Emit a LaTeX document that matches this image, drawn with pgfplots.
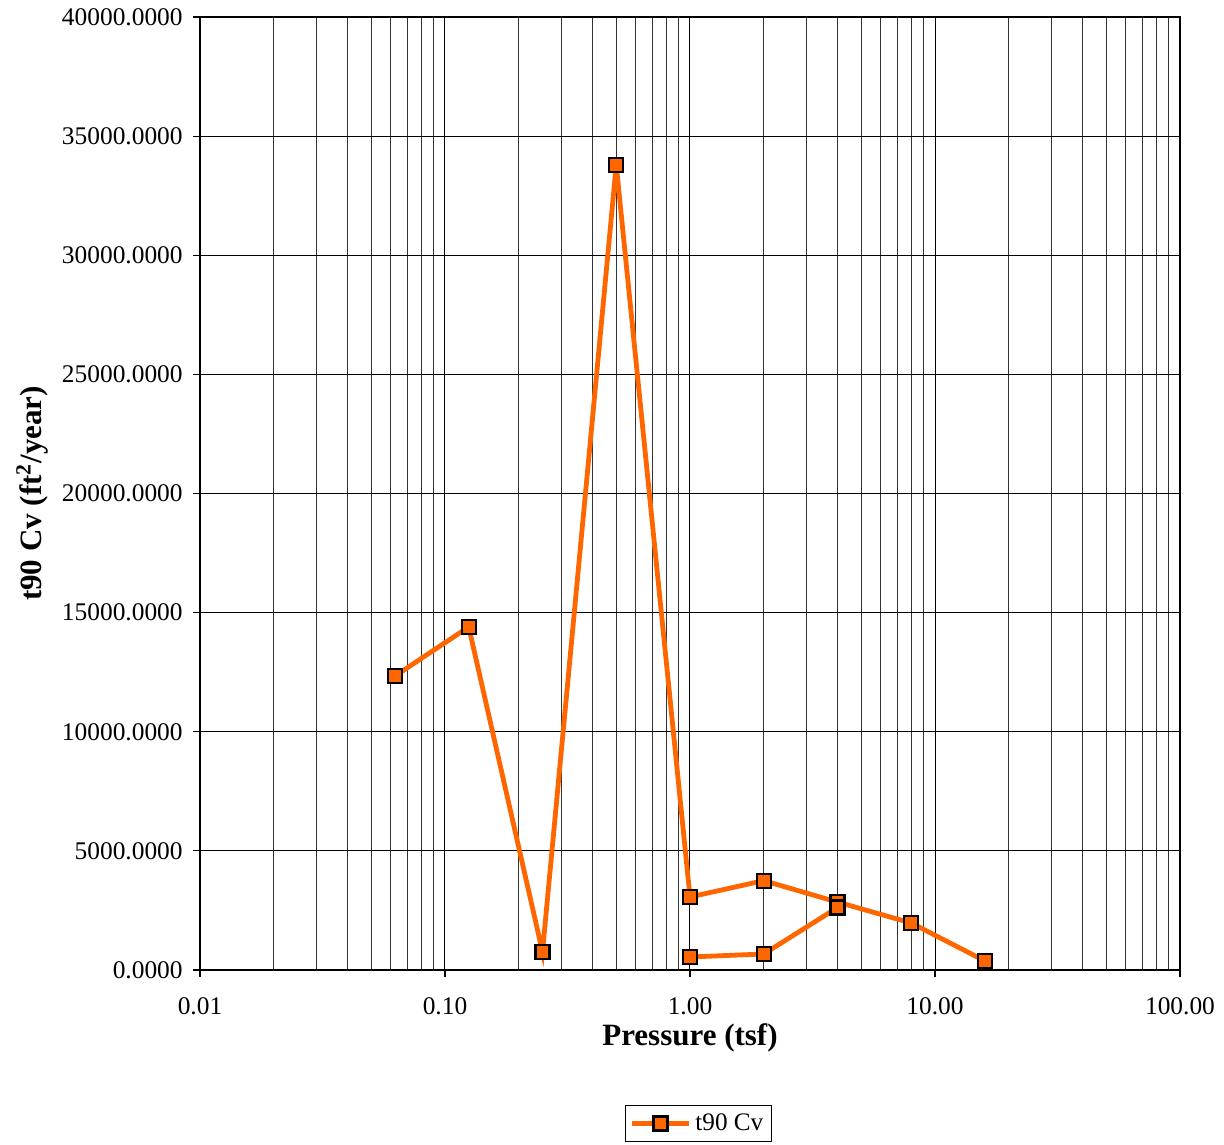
\documentclass[border=0pt]{standalone}
\usepackage{fontspec}
\setmainfont{Liberation Serif}
\usepackage{pgfplots}
\pgfplotsset{compat=1.18}
\definecolor{cvorange}{RGB}{255,102,0}
\begin{document}
\begin{tikzpicture}
\path[use as bounding box] (-100pt,-87pt) rectangle (512pt,485pt);
\begin{axis}[
  at={(0,0)}, anchor=south west,
  scale only axis, width=490pt, height=476.5pt,
  xmode=log, log basis x=10,
  xmin=0.01, xmax=100, ymin=0, ymax=40000,
  xtick={0.01,0.1,1,10,100},
  xticklabels={0.01,0.10,1.00,10.00,100.00},
  minor xtick={0.02,0.03,0.04,0.05,0.06,0.07,0.08,0.09,
               0.2,0.3,0.4,0.5,0.6,0.7,0.8,0.9,
               2,3,4,5,6,7,8,9,
               20,30,40,50,60,70,80,90},
  ytick={0,5000,10000,15000,20000,25000,30000,35000,40000},
  yticklabels={0.0000,5000.0000,10000.0000,15000.0000,20000.0000,25000.0000,30000.0000,35000.0000,40000.0000},
  xmajorgrids=true, xminorgrids=true, ymajorgrids=true,
  major grid style={black, line width=0.5pt},
  minor grid style={black!80, line width=0.5pt},
  axis line style={black, line width=1.3pt},
  tick align=outside, major tick length=3.5pt, minor tick length=0pt,
  tick style={black, line width=0.6pt},
  xtick pos=bottom, ytick pos=left,
  ticklabel style={font=\fontsize{12.7}{14}\selectfont},
  yticklabel style={inner sep=5pt},
  xticklabel style={yshift=-7pt},
  xlabel={Pressure (tsf)},
  ylabel={t90 Cv (ft\textsuperscript{2}/year)},
  label style={font=\fontsize{15.5}{17}\selectfont\bfseries},
  xlabel style={at={(axis description cs:0.5,-0.0714)}, anchor=center},
  ylabel style={at={(axis description cs:-0.1714,0.5)}, anchor=center},
  legend style={at={(0.5087,-0.1417)}, anchor=north, draw=black, line width=0.5pt,
    font=\fontsize{12.6}{14}\selectfont, inner sep=2pt},
  legend image code/.code={\draw[mark repeat=2,mark phase=2] plot coordinates {(0cm,0cm) (0.5cm,0cm) (1cm,0cm)};},
  unbounded coords=jump,
]
\addplot[color=cvorange, line width=2.4pt, mark=square*,
  mark size=3.5pt, mark options={fill=cvorange, draw=black, line width=1.1pt}]
  coordinates {
  (0.0625,12340) (0.125,14400) (0.25,760) (0.5,33790) (1,3064) (2,3750)
  (4,2850) (8,1973) (16,378) (4,nan) (4,2620) (2,672) (1,546)
  };
\addlegendentry{t90 Cv}
\end{axis}
\end{tikzpicture}
\end{document}
